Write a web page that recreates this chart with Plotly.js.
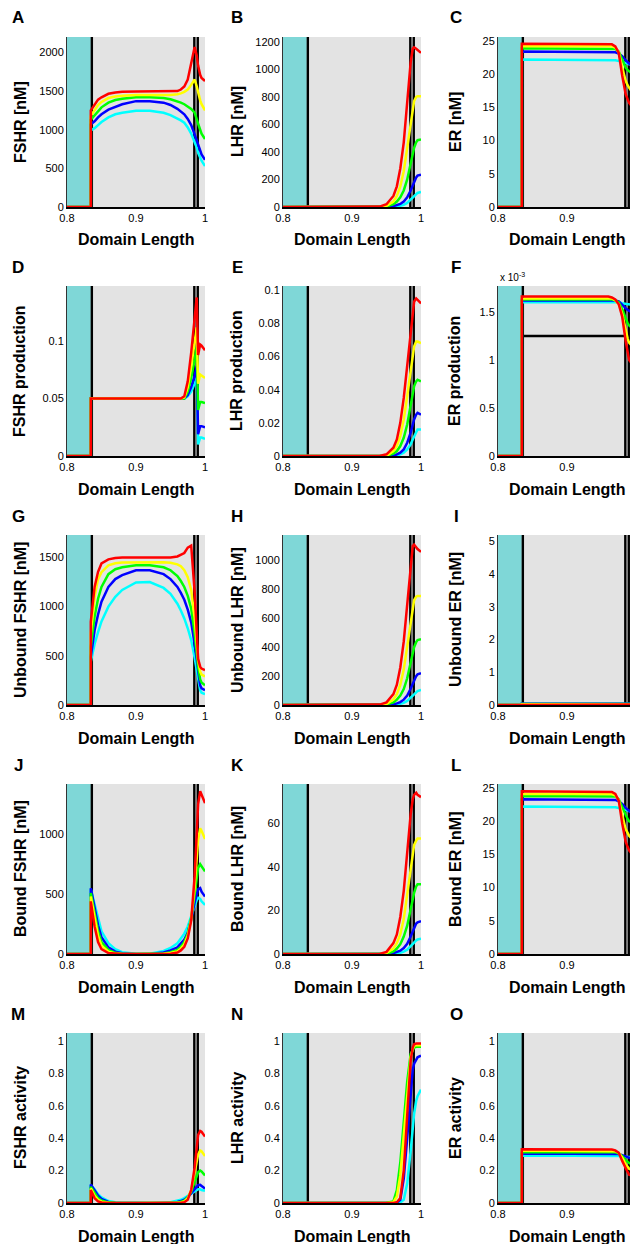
<!DOCTYPE html>
<html>
<head>
<meta charset="utf-8">
<script src="https://cdn.plot.ly/plotly-3.0.1.min.js"></script>
<style>html,body{margin:0;padding:0;background:#fff;}#chart{width:630px;height:1244px;}</style>
</head>
<body>
<div id="chart"></div>
<script>
// Shared x grid (Domain Length)
const X = [0.8, 0.8345, 0.8345, 0.84, 0.845, 0.85, 0.86, 0.87, 0.88, 0.9, 0.92, 0.94, 0.95, 0.96, 0.965, 0.97, 0.975, 0.98, 0.985, 0.988, 0.99, 0.993, 0.995, 1.0];
// Region boundaries
const CYAN_REGION = [0.8, 0.8345];
const BOUNDARY_LINES = [0.836, 0.9845, 0.9895];

// A: FSHR [nM]
const A_cyan = [0,0,990,1020,1060,1100,1160,1200,1220,1245,1245,1220,1190,1150,1120,1090,1030,950,840,770,700,640,600,530];
const A_blue = [0,0,1070,1110,1160,1200,1260,1300,1330,1370,1370,1350,1320,1270,1240,1200,1140,1060,940,860,790,720,680,610];
const A_green = [0,0,1130,1190,1240,1290,1350,1385,1400,1420,1420,1410,1395,1370,1350,1330,1300,1270,1220,1150,1080,1000,950,880];
const A_yellow = [0,0,1180,1260,1320,1360,1410,1430,1440,1450,1450,1450,1450,1460,1470,1490,1520,1580,1650,1560,1480,1380,1330,1250];
const A_red = [0,0,1250,1330,1390,1420,1465,1482,1490,1495,1495,1495,1495,1500,1520,1560,1650,1850,2070,1960,1830,1710,1670,1630];
// B: LHR [nM]
const B_cyan = [0,0,0,0,0,0,0,0,0,0,0,0,0,2,5,9,16,30,52,68,78,93,102,110];
const B_blue = [0,0,0,0,0,0,0,0,0,0,0,0,1,6,12,22,40,70,120,160,185,215,228,235];
const B_green = [0,0,0,0,0,0,0,0,0,0,0,0,4,20,40,70,120,200,320,390,430,470,485,490];
const B_yellow = [0,0,0,0,0,0,0,0,0,0,0,0,8,40,80,150,260,430,620,720,770,800,805,805];
const B_red = [0,0,0,0,0,0,0,0,0,0,0,3,20,80,150,280,470,760,1050,1150,1160,1150,1140,1120];
// C: ER [nM]
const C_cyan = [0,0,22.2,22.2,22.2,22.2,22.2,22.2,22.2,22.2,22.2,22.2,22.2,22.2,22.2,22.1,22.0,21.9,21.7,21.6,21.5,21.5,21.4,21.4];
const C_blue = [0,0,23.4,23.4,23.4,23.4,23.4,23.4,23.4,23.4,23.4,23.4,23.4,23.4,23.4,23.3,23.1,22.7,22.1,21.8,21.6,21.5,21.4,21.3];
const C_green = [0,0,23.9,23.9,23.9,23.9,23.9,23.9,23.9,23.9,23.9,23.9,23.9,23.9,23.9,23.8,23.4,22.2,21.0,20.6,20.4,20.2,20.1,20.0];
const C_yellow = [0,0,24.2,24.2,24.2,24.2,24.2,24.2,24.2,24.2,24.2,24.2,24.2,24.2,24.2,24.0,23.3,21.0,19.0,18.3,17.9,17.5,17.3,17.0];
const C_red = [0,0,24.6,24.6,24.6,24.6,24.6,24.6,24.6,24.6,24.6,24.6,24.6,24.6,24.5,24.2,23.2,19.8,17.0,16.2,15.7,15.3,15.2,15.0];
// D: FSHR production
const D_cyan = [0,0,0.05,0.05,0.05,0.05,0.05,0.05,0.05,0.05,0.05,0.05,0.05,0.05,0.05,0.05,0.052,0.056,0.063,0.068,0.010,0.016,0.016,0.015];
const D_blue = [0,0,0.05,0.05,0.05,0.05,0.05,0.05,0.05,0.05,0.05,0.05,0.05,0.05,0.05,0.05,0.053,0.060,0.070,0.078,0.019,0.026,0.026,0.025];
const D_green = [0,0,0.05,0.05,0.05,0.05,0.05,0.05,0.05,0.05,0.05,0.05,0.05,0.05,0.05,0.05,0.056,0.068,0.084,0.095,0.040,0.047,0.047,0.046];
const D_yellow = [0,0,0.05,0.05,0.05,0.05,0.05,0.05,0.05,0.05,0.05,0.05,0.05,0.05,0.05,0.051,0.060,0.078,0.098,0.112,0.063,0.071,0.070,0.068];
const D_red = [0,0,0.05,0.05,0.05,0.05,0.05,0.05,0.05,0.05,0.05,0.05,0.05,0.05,0.05,0.052,0.065,0.090,0.120,0.138,0.088,0.097,0.096,0.092];
// E: LHR production
const E_cyan = [0,0,0,0,0,0,0,0,0,0,0,0,0,0,0,0.001,0.002,0.004,0.007,0.010,0.012,0.015,0.016,0.016];
const E_blue = [0,0,0,0,0,0,0,0,0,0,0,0,0,0,0.001,0.002,0.004,0.008,0.014,0.019,0.022,0.025,0.026,0.025];
const E_green = [0,0,0,0,0,0,0,0,0,0,0,0,0,0.0015,0.003,0.006,0.011,0.019,0.031,0.038,0.042,0.045,0.046,0.045];
const E_yellow = [0,0,0,0,0,0,0,0,0,0,0,0,0,0.003,0.006,0.012,0.022,0.036,0.052,0.062,0.066,0.069,0.069,0.068];
const E_red = [0,0,0,0,0,0,0,0,0,0,0,0,0.001,0.005,0.010,0.020,0.035,0.055,0.077,0.088,0.093,0.095,0.094,0.092];
// F: ER production
const F_cyan = [0,0,0.00160,0.00160,0.00160,0.00160,0.00160,0.00160,0.00160,0.00160,0.00160,0.00160,0.00160,0.00160,0.00160,0.00160,0.00160,0.00159,0.00158,0.00158,0.00158,0.00157,0.00157,0.00157];
const F_blue = [0,0,0.00162,0.00162,0.00162,0.00162,0.00162,0.00162,0.00162,0.00162,0.00162,0.00162,0.00162,0.00162,0.00162,0.00162,0.00161,0.00158,0.00154,0.00152,0.00151,0.00150,0.00150,0.00149];
const F_green = [0,0,0.00163,0.00163,0.00163,0.00163,0.00163,0.00163,0.00163,0.00163,0.00163,0.00163,0.00163,0.00163,0.00163,0.00162,0.00160,0.00153,0.00143,0.00138,0.00136,0.00134,0.00133,0.00132];
const F_yellow = [0,0,0.00164,0.00164,0.00164,0.00164,0.00164,0.00164,0.00164,0.00164,0.00164,0.00164,0.00164,0.00164,0.00164,0.00162,0.00158,0.00148,0.00130,0.00122,0.00118,0.00115,0.00114,0.00112];
const F_red = [0,0,0.00166,0.00166,0.00166,0.00166,0.00166,0.00166,0.00166,0.00166,0.00166,0.00166,0.00166,0.00166,0.00165,0.00163,0.00158,0.00145,0.00120,0.00108,0.00100,0.00097,0.00096,0.00095];
const F_black_x = [0.836, 0.9845];
const F_black = [0.00125, 0.00125];
// G: Unbound FSHR [nM]
const G_cyan = [0,0,440,620,740,850,1000,1100,1170,1245,1250,1190,1130,1030,960,880,780,660,480,340,250,150,125,110];
const G_blue = [0,0,490,760,920,1050,1200,1280,1320,1370,1370,1330,1280,1200,1140,1070,970,840,620,440,320,200,170,150];
const G_green = [0,0,590,900,1080,1200,1330,1380,1400,1420,1420,1400,1370,1310,1260,1200,1110,980,730,520,390,260,230,200];
const G_yellow = [0,0,730,1100,1280,1350,1420,1440,1448,1450,1450,1450,1445,1430,1410,1370,1300,1170,880,620,460,340,310,290];
const G_red = [0,0,846,1200,1354,1439,1480,1495,1500,1500,1500,1500,1500,1510,1525,1545,1600,1620,1150,650,470,390,370,355];
// H: Unbound LHR [nM]
const H_cyan = [0,0,0,0,0,0,0,0,0,0,0,0,0,2,4,8,15,28,48,63,73,88,96,105];
const H_blue = [0,0,0,0,0,0,0,0,0,0,0,0,0,5,11,20,37,65,112,150,172,200,212,220];
const H_green = [0,0,0,0,0,0,0,0,0,0,0,0,4,18,37,65,110,185,295,360,400,435,450,455];
const H_yellow = [0,0,0,0,0,0,0,0,0,0,0,0,7,38,75,140,245,400,580,680,725,750,755,755];
const H_red = [0,0,0,0,0,0,0,0,0,0,0,3,18,75,140,260,440,710,990,1100,1110,1090,1080,1060];
// I: Unbound ER [nM]
const I_cyan = [0,0,0.04,0.04,0.04,0.04,0.04,0.04,0.04,0.04,0.04,0.04,0.04,0.04,0.04,0.04,0.04,0.04,0.04,0.04,0.04,0.04,0.04,0.04];
const I_blue = [0,0,0.035,0.035,0.035,0.035,0.035,0.035,0.035,0.035,0.035,0.035,0.035,0.035,0.035,0.035,0.035,0.035,0.035,0.035,0.035,0.035,0.035,0.035];
const I_green = [0,0,0.03,0.03,0.03,0.03,0.03,0.03,0.03,0.03,0.03,0.03,0.03,0.03,0.03,0.03,0.03,0.03,0.03,0.03,0.03,0.03,0.03,0.03];
const I_yellow = [0,0,0.025,0.025,0.025,0.025,0.025,0.025,0.025,0.025,0.025,0.025,0.025,0.025,0.025,0.025,0.025,0.025,0.025,0.025,0.025,0.025,0.025,0.025];
const I_red = [0,0,0.02,0.02,0.02,0.02,0.02,0.02,0.02,0.02,0.02,0.02,0.02,0.02,0.02,0.02,0.02,0.02,0.02,0.02,0.02,0.02,0.02,0.02];
// J: Bound FSHR [nM]
const J_cyan = [0,0,540,420,290,190,90,40,15,3,3,25,50,90,130,170,230,320,410,450,470,460,440,410];
const J_blue = [0,0,550,380,240,140,55,20,7,1,1,12,30,55,85,120,180,290,430,500,540,550,520,480];
const J_green = [0,0,510,330,190,100,35,10,3,0,0,5,15,35,60,100,170,300,500,640,720,750,735,690];
const J_yellow = [0,0,480,290,150,70,20,5,1,0,0,2,8,22,45,80,150,290,560,800,950,1050,1030,960];
const J_red = [0,0,440,230,100,40,8,1,0,0,0,0,3,12,30,60,130,280,650,1000,1250,1360,1330,1260];
// K: Bound LHR [nM]
const K_cyan = [0,0,0,0,0,0,0,0,0,0,0,0,0,0,0.3,0.6,1.1,2,3.4,4.5,5.2,6.2,6.7,7];
const K_blue = [0,0,0,0,0,0,0,0,0,0,0,0,0,0.4,0.8,1.5,2.7,4.7,8,10.5,12,14,14.5,15];
const K_green = [0,0,0,0,0,0,0,0,0,0,0,0,0,1.2,2.5,4.5,8,13,21,26,28,31,32,32];
const K_yellow = [0,0,0,0,0,0,0,0,0,0,0,0,0.5,2.5,5,9,16,27,39,46,50,52,53,53];
const K_red = [0,0,0,0,0,0,0,0,0,0,0,0,1,5,9,17,29,47,64,71,73,74,73,72];
// L: Bound ER [nM]
const L_cyan = [0,0,22.2,22.2,22.2,22.2,22.2,22.2,22.2,22.2,22.2,22.2,22.2,22.2,22.2,22.1,22.0,21.9,21.7,21.6,21.5,21.4,21.4,21.3];
const L_blue = [0,0,23.3,23.3,23.3,23.3,23.3,23.3,23.3,23.3,23.3,23.3,23.3,23.3,23.3,23.2,23.0,22.6,22.0,21.7,21.5,21.3,21.2,21.1];
const L_green = [0,0,23.8,23.8,23.8,23.8,23.8,23.8,23.8,23.8,23.8,23.8,23.8,23.8,23.8,23.7,23.3,22.1,20.8,20.3,20.0,19.8,19.7,19.5];
const L_yellow = [0,0,24.1,24.1,24.1,24.1,24.1,24.1,24.1,24.1,24.1,24.1,24.1,24.1,24.1,23.9,23.2,20.9,18.8,18.2,17.8,17.5,17.3,17.0];
const L_red = [0,0,24.5,24.5,24.5,24.5,24.5,24.5,24.5,24.5,24.5,24.5,24.5,24.5,24.4,24.1,23.1,19.7,16.9,16.1,15.6,15.2,15.1,14.9];
// M: FSHR activity
const M_cyan = [0,0,0.11,0.085,0.055,0.035,0.012,0.004,0.001,0,0,0.002,0.005,0.012,0.02,0.03,0.045,0.06,0.075,0.082,0.085,0.085,0.08,0.075];
const M_blue = [0,0,0.115,0.075,0.045,0.025,0.007,0.002,0,0,0,0.001,0.002,0.006,0.012,0.02,0.035,0.06,0.09,0.105,0.11,0.112,0.105,0.09];
const M_green = [0,0,0.1,0.06,0.03,0.015,0.004,0.001,0,0,0,0,0.001,0.003,0.008,0.015,0.035,0.07,0.13,0.17,0.19,0.2,0.195,0.17];
const M_yellow = [0,0,0.09,0.045,0.02,0.008,0.002,0,0,0,0,0,0,0.001,0.003,0.01,0.03,0.08,0.18,0.26,0.3,0.325,0.32,0.29];
const M_red = [0,0,0.08,0.03,0.01,0.003,0,0,0,0,0,0,0,0,0.001,0.005,0.02,0.08,0.22,0.34,0.42,0.445,0.44,0.41];
// N: LHR activity
const N_cyan = [0,0,0,0,0,0,0,0,0,0,0,0,0,0,0,0.003,0.02,0.12,0.32,0.46,0.55,0.63,0.66,0.7];
const N_blue = [0,0,0,0,0,0,0,0,0,0,0,0,0,0,0.002,0.02,0.15,0.4,0.7,0.82,0.86,0.89,0.9,0.91];
const N_green = [0,0,0,0,0,0,0,0,0,0,0,0,0.002,0.01,0.08,0.25,0.5,0.75,0.92,0.95,0.96,0.965,0.965,0.965];
const N_yellow = [0,0,0,0,0,0,0,0,0,0,0,0,0,0.005,0.04,0.17,0.42,0.7,0.9,0.95,0.97,0.975,0.975,0.975];
const N_red = [0,0,0,0,0,0,0,0,0,0,0,0,0,0,0.005,0.03,0.2,0.55,0.88,0.96,0.98,0.985,0.985,0.985];
// O: ER activity
const O_cyan = [0,0,0.293,0.293,0.293,0.293,0.293,0.293,0.293,0.293,0.293,0.293,0.293,0.293,0.293,0.293,0.292,0.29,0.286,0.284,0.283,0.282,0.281,0.28];
const O_blue = [0,0,0.305,0.305,0.305,0.305,0.305,0.305,0.305,0.305,0.305,0.305,0.305,0.305,0.305,0.304,0.302,0.296,0.286,0.281,0.278,0.275,0.273,0.27];
const O_green = [0,0,0.315,0.315,0.315,0.315,0.315,0.315,0.315,0.315,0.315,0.315,0.315,0.315,0.315,0.313,0.306,0.29,0.265,0.253,0.247,0.242,0.24,0.235];
const O_yellow = [0,0,0.324,0.324,0.324,0.324,0.324,0.324,0.324,0.324,0.324,0.324,0.324,0.324,0.324,0.32,0.31,0.28,0.24,0.222,0.212,0.205,0.202,0.198];
const O_red = [0,0,0.332,0.332,0.332,0.332,0.332,0.332,0.332,0.332,0.332,0.332,0.332,0.332,0.33,0.325,0.31,0.26,0.21,0.19,0.175,0.17,0.165,0.16];

// Panel texts and axes
const LETTERS = ['A','B','C','D','E','F','G','H','I','J','K','L','M','N','O'];
const YLABELS = ['FSHR [nM]','LHR [nM]','ER [nM]','FSHR production','LHR production','ER production',
  'Unbound FSHR [nM]','Unbound LHR [nM]','Unbound ER [nM]','Bound FSHR [nM]','Bound LHR [nM]','Bound ER [nM]',
  'FSHR activity','LHR activity','ER activity'];
const XLABEL = 'Domain Length';
const YMAX = [2200,1235,25.6,0.148,0.1025,0.00177,1728,1177,5.2,1420,78,25.6,1.05,1.05,1.05];
const YTICKVALS = [
  [0,500,1000,1500,2000],[0,200,400,600,800,1000,1200],[0,5,10,15,20,25],
  [0,0.05,0.1],[0,0.02,0.04,0.06,0.08,0.1],[0,0.0005,0.001,0.0015],
  [0,500,1000,1500],[0,200,400,600,800,1000],[0,1,2,3,4,5],
  [0,500,1000],[0,20,40,60],[0,5,10,15,20,25],
  [0,0.2,0.4,0.6,0.8,1],[0,0.2,0.4,0.6,0.8,1],[0,0.2,0.4,0.6,0.8,1]];
const YTICKTEXT = [
  ['0','500','1000','1500','2000'],['0','200','400','600','800','1000','1200'],['0','5','10','15','20','25'],
  ['0','0.05','0.1'],['0','0.02','0.04','0.06','0.08','0.1'],['0','0.5','1','1.5'],
  ['0','500','1000','1500'],['0','200','400','600','800','1000'],['0','1','2','3','4','5'],
  ['0','500','1000'],['0','20','40','60'],['0','5','10','15','20','25'],
  ['0','0.2','0.4','0.6','0.8','1'],['0','0.2','0.4','0.6','0.8','1'],['0','0.2','0.4','0.6','0.8','1']];
// x ticks per column (third column is cut off before 1)
const XTICKVALS = [[0.8, 0.9, 1], [0.8, 0.9, 1], [0.8, 0.9]];
const XTICKTEXT = [['0.8','0.9','1'], ['0.8','0.9','1'], ['0.8','0.9']];

const SERIES = [
  [A_cyan,A_blue,A_green,A_yellow,A_red],[B_cyan,B_blue,B_green,B_yellow,B_red],[C_cyan,C_blue,C_green,C_yellow,C_red],
  [D_cyan,D_blue,D_green,D_yellow,D_red],[E_cyan,E_blue,E_green,E_yellow,E_red],[F_cyan,F_blue,F_green,F_yellow,F_red],
  [G_cyan,G_blue,G_green,G_yellow,G_red],[H_cyan,H_blue,H_green,H_yellow,H_red],[I_cyan,I_blue,I_green,I_yellow,I_red],
  [J_cyan,J_blue,J_green,J_yellow,J_red],[K_cyan,K_blue,K_green,K_yellow,K_red],[L_cyan,L_blue,L_green,L_yellow,L_red],
  [M_cyan,M_blue,M_green,M_yellow,M_red],[N_cyan,N_blue,N_green,N_yellow,N_red],[O_cyan,O_blue,O_green,O_yellow,O_red]];
const COLORS = ['#00ffff','#0000ff','#00ff00','#ffff00','#ff0000'];

// Layout geometry (pixels)
const W = 630, H = 1244;
const COL_LEFT = [67, 283, 498];
const COL_RIGHT = [205, 421, 630];
const COL_XMAX = [1.0, 1.0, 0.9913];
const ROW_TOP = [37, 286, 535, 784, 1033];
const PLOT_H = 170;
const YTITLE_X = [20, 237, 455];
const LETTER_X = [18, 237, 456];

const FONT = 'Liberation Sans, Arial, Helvetica, sans-serif';
const traces = [];
const layout = {
  width: W, height: H, margin: {l:0, r:0, t:0, b:0},
  paper_bgcolor: '#ffffff', plot_bgcolor: '#e3e3e3',
  showlegend: false, font: {family: FONT, color: '#000', size: 11},
  shapes: [], annotations: []
};

for (let i = 0; i < 15; i++) {
  const r = Math.floor(i / 3), c = i % 3;
  const sfx = i === 0 ? '' : String(i + 1);
  const xa = 'x' + sfx, ya = 'y' + sfx;
  const top = ROW_TOP[r], bot = top + PLOT_H;
  layout['xaxis' + sfx] = {
    domain: [COL_LEFT[c] / W, COL_RIGHT[c] / W], anchor: ya,
    range: [0.8, COL_XMAX[c]], tickmode: 'array', tickvals: XTICKVALS[c], ticktext: XTICKTEXT[c],
    ticks: '', showgrid: false, zeroline: false, showline: true, linecolor: '#000', linewidth: 2,
    tickfont: {family: FONT, size: 11, color: '#000'}, fixedrange: true
  };
  layout['yaxis' + sfx] = {
    domain: [1 - bot / H, 1 - top / H], anchor: xa,
    range: [0, YMAX[i]], tickmode: 'array', tickvals: YTICKVALS[i], ticktext: YTICKTEXT[i],
    ticks: '', showgrid: false, zeroline: false, showline: true, linecolor: '#333', linewidth: 1,
    tickfont: {family: FONT, size: 11, color: '#000'}, fixedrange: true
  };
  // cyan region
  layout.shapes.push({type: 'rect', xref: xa, yref: ya + ' domain', x0: CYAN_REGION[0], x1: CYAN_REGION[1], y0: 0, y1: 1,
    fillcolor: '#7fd7d7', line: {width: 0}, layer: 'below'});
  // boundary lines
  BOUNDARY_LINES.forEach(bx => {
    layout.shapes.push({type: 'line', xref: xa, yref: ya + ' domain', x0: bx, x1: bx, y0: 0, y1: 1,
      line: {color: '#000', width: 2.4}, layer: 'below'});
  });
  if (i === 5) {
    traces.push({x: F_black_x, y: F_black, xaxis: xa, yaxis: ya, mode: 'lines', line: {color: '#000', width: 2.4}, hoverinfo: 'skip'});
  }
  SERIES[i].forEach((ys, s) => {
    traces.push({x: X, y: ys, xaxis: xa, yaxis: ya, mode: 'lines', line: {color: COLORS[s], width: 2.5}, hoverinfo: 'skip'});
  });
  // panel letter
  layout.annotations.push({xref: 'paper', yref: 'paper', x: LETTER_X[c] / W, y: 1 - (top - 19) / H,
    text: '<b>' + LETTERS[i] + '</b>', showarrow: false, xanchor: 'center', yanchor: 'middle',
    font: {family: FONT, size: 17, color: '#000'}});
  // y title
  layout.annotations.push({xref: 'paper', yref: 'paper', x: YTITLE_X[c] / W, y: 1 - (top + PLOT_H / 2) / H,
    text: '<b>' + YLABELS[i] + '</b>', showarrow: false, textangle: -90, xanchor: 'center', yanchor: 'middle',
    font: {family: FONT, size: 16, color: '#000'}});
  // x title
  const xc = c === 2 ? (COL_LEFT[c] + 138 / 2) : (COL_LEFT[c] + COL_RIGHT[c]) / 2;
  layout.annotations.push({xref: 'paper', yref: 'paper', x: xc / W, y: 1 - (bot + 33) / H,
    text: '<b>' + XLABEL + '</b>', showarrow: false, xanchor: 'center', yanchor: 'middle',
    font: {family: FONT, size: 16, color: '#000'}});
}
// exponent label for ER production
layout.annotations.push({xref: 'paper', yref: 'paper', x: 498 / W, y: 1 - 277 / H,
  text: 'x 10<sup>-3</sup>', showarrow: false, xanchor: 'left', yanchor: 'middle',
  font: {family: FONT, size: 10, color: '#000'}});

Plotly.newPlot('chart', traces, layout, {staticPlot: true, displayModeBar: false});
</script>
</body>
</html>
